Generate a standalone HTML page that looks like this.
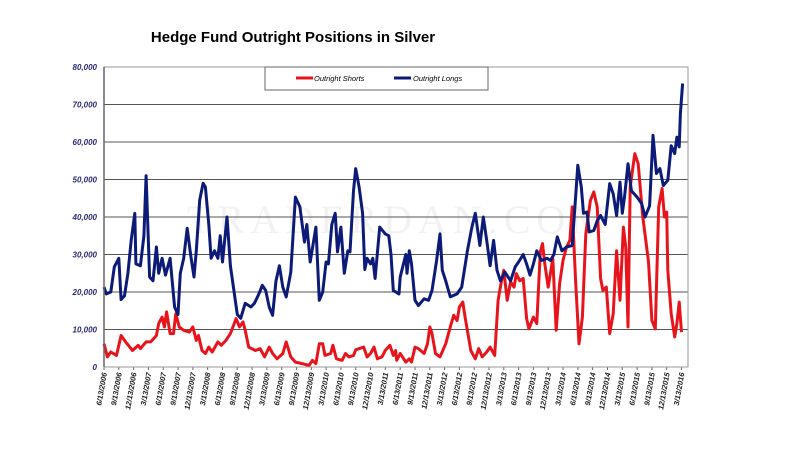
<!DOCTYPE html>
<html><head><meta charset="utf-8"><style>
body{margin:0;background:#fff;width:800px;height:450px;overflow:hidden;font-family:"Liberation Sans",sans-serif}
</style></head><body>
<svg id="chart" width="800" height="450" xmlns="http://www.w3.org/2000/svg">
<text x="293" y="42" text-anchor="middle" font-size="15" font-weight="bold" fill="#000">Hedge Fund Outright Positions in Silver</text>
<text x="400" y="233" text-anchor="middle" font-size="40" font-family="Liberation Serif" fill="#f2f2f2" letter-spacing="6">TRADERDAN.COM</text>
<g id="grid"></g><g id="yticks"></g><g id="xticks"></g><g id="series"></g>
<rect x="104" y="67" width="584" height="300" fill="none" stroke="#999" stroke-width="1"/>
<line x1="104" y1="67" x2="104" y2="367" stroke="#666" stroke-width="1.5"/>
<g>
<rect x="265" y="67" width="223" height="23" fill="#fff" stroke="#666" stroke-width="1"/>
<line x1="296" y1="78" x2="313" y2="78" stroke="#e8141b" stroke-width="3"/>
<text x="314" y="81" font-size="7.5" font-style="italic" fill="#000">Outright Shorts</text>
<line x1="394" y1="78" x2="411" y2="78" stroke="#0c1a78" stroke-width="3"/>
<text x="413" y="81" font-size="7.5" font-style="italic" fill="#000">Outright Longs</text>
</g>
</svg>
<script>
const yTicks=[0,10000,20000,30000,40000,50000,60000,70000,80000];
const xTickLabels=["6/13/2006","9/13/2006","12/13/2006","3/13/2007","6/13/2007","9/13/2007","12/13/2007","3/13/2008","6/13/2008","9/13/2008","12/13/2008","3/13/2009","6/13/2009","9/13/2009","12/13/2009","3/13/2010","6/13/2010","9/13/2010","12/13/2010","3/13/2011","6/13/2011","9/13/2011","12/13/2011","3/13/2012","6/13/2012","9/13/2012","12/13/2012","3/13/2013","6/13/2013","9/13/2013","12/13/2013","3/13/2014","6/13/2014","9/13/2014","12/13/2014","3/13/2015","6/13/2015","9/13/2015","12/13/2015","3/13/2016"];
// weeks since 6/13/2006
const longWeeks=[0,2,6,9,13,15,18,21,24,27,28,32,35,37,40,43,46,48,51,54,58,62,65,67,70,73,76,79,81,84,87,89,92,94,97,100,102,104,108,111,114,117,120,124,129,132,136,139,142,145,148,151,154,157,160,164,168,172,176,178,181,186,189,192,195,197,200,203,205,208,211,214,216,219,221,224,227,229,231,234,236,238,242,247,250,252,254,259,260,265,266,268,270,273,276,281,285,288,292,295,297,300,304,310,314,319,323,326,330,333,336,339,342,345,348,352,357,361,364,368,371,374,377,380,384,389,392,395,398,402,406,411,414,416,419,421,424,426,430,433,436,440,444,447,450,453,455,457,460,463,468,472,475,479,482,485,488,491,495,498,501,503,505,506,508];
const longValues=[21.3,19.5,20,26.7,29,18,19,25,34,41,27.5,27,35,51,24,23,32,25,29,24.5,29,16,14,25,29,37,30,24,31,44.5,49,48,38,29,31,29,35,28,40,27,20.4,14,13,17,16,17,19.5,21.8,20.4,16,13.8,23,27,21.3,18.7,25.3,45.3,42.7,33.3,38,28,37.3,17.8,20,28,27.5,38,41,30.7,37.3,25,31,30.7,47,52.9,48,41,26,29,27.5,29,23.6,37.3,35.5,35,30,20.4,19.5,24,30,25,31,27.5,17.8,16.4,18.2,17.8,20.4,28.4,35.5,25.8,23,18.7,19.5,21.3,31,37.3,41,32.4,40,33.8,27,33.8,25.8,23,25.3,23,26.7,28,30,27.5,24.5,27.5,31,28.4,29,28.4,30,34.7,31,32,32.4,45.3,53.8,48,41,41.3,36,36.4,39,40.4,38,48.9,46.2,40.4,49.3,41,45.3,54.2,47,45.3,43.6,40,43,61.8,51.6,52.9,48.4,49.8,59,56.9,61.3,58.7,67.6,75.6];
const shortWeeks=[0,3,6,11,15,19,25,30,32,37,41,46,48,51,53,55,58,61,63,66,70,75,78,81,83,86,89,92,95,100,103,107,111,116,119,122,124,127,133,137,141,145,148,152,157,160,164,168,174,180,183,186,189,192,194,199,201,204,209,212,215,219,221,228,231,234,237,240,244,247,251,254,256,257,260,265,268,270,273,276,281,284,286,288,291,295,300,304,307,310,312,315,317,322,326,329,332,336,339,343,346,349,351,354,357,360,362,365,368,371,373,377,380,383,385,387,390,394,397,400,403,406,409,411,414,417,420,423,427,430,433,436,438,441,444,447,450,453,456,458,460,462,466,469,473,476,478,481,484,487,490,492,494,495,498,501,503,505,507];
const shortValues=[6.2,2.7,4,3.1,8.4,6.7,4.4,5.8,4.9,6.7,6.7,8.4,11.6,13.3,10.7,14.7,8.9,8.9,14.2,10.7,9.8,9.3,10.7,7.1,8.4,4.4,3.6,5.3,4,6.7,5.8,7.1,8.9,12.9,10.7,12,9.8,5.3,4.4,4.9,2.7,5.3,3.6,2.2,3.6,6.7,2.7,1.3,0.9,0.4,1.8,0.9,6.2,6.2,3.1,3.6,5.8,2.2,1.8,3.6,2.7,3.1,4.6,5.3,2.7,3.6,5.3,2.2,2.7,4.4,5.8,3.1,4.4,1.8,3.6,1.3,2.2,1.3,5.3,4.9,3.6,6.2,10.7,8.9,3.6,2.7,6.2,10.7,13.8,12.4,16,17.3,13.3,4.4,2.2,4.9,2.7,4,5.3,3.1,17.8,23,25.8,17.8,22.7,21.3,24.9,23,23.6,12.9,10.2,13.3,11.6,30.7,32.9,27.5,21.3,28.9,9.8,22.2,28.4,32,33.8,42.7,23,6.2,13.3,35.5,44.4,46.7,42.7,23.6,20.4,21.3,8.9,14.2,31,17.8,37.3,32,10.7,48,56.9,54.2,40,32.9,28,12.4,10.2,42.7,47.6,40,41.3,25.8,14.2,8,11.6,17.3,9.3];

const NS="http://www.w3.org/2000/svg";
const X0=104,X1=681.5,Y0=367,Y1=67,WMAX=507,VMAX=80000;
const xs=w=>X0+(X1-X0)*w/WMAX;
const ys=v=>Y0-(Y0-Y1)*v/VMAX;
function mk(tag,attrs,parent){const e=document.createElementNS(NS,tag);for(const k in attrs)e.setAttribute(k,attrs[k]);parent.appendChild(e);return e;}
const grid=document.getElementById('grid'),yt=document.getElementById('yticks'),xt=document.getElementById('xticks'),ser=document.getElementById('series');
yTicks.forEach(v=>{
  const y=ys(v);
  const l=mk('line',{x1:X0,x2:688,y1:y,y2:y,stroke:v===80000?'#bbb':'#555','stroke-width':1},grid);
  
  
  const t=mk('text',{x:97,y:y+3,'text-anchor':'end','font-size':8,'font-weight':'bold','font-style':'italic',fill:'#2a2a78'},yt);
  t.textContent=v===0?'0':v.toLocaleString('en-US');
  
  
});
xTickLabels.forEach((s,i)=>{
  const x=xs(i*13);
  const tk=mk('line',{x1:x,x2:x,y1:367,y2:370,stroke:'#666'},xt);
  
  
  const t=mk('text',{x:0,y:0,'text-anchor':'end','font-size':7.5,'font-weight':'bold','font-style':'italic',fill:'#222',transform:`translate(${x+3},373) rotate(-80)`},xt);
  t.textContent=s;
  
  
});
function path(ws,vs,color,name){
  const d=ws.map((w,i)=>(i?'L':'M')+xs(w).toFixed(1)+' '+ys(vs[i]*1000).toFixed(1)).join('');
  const p=mk('path',{d:d,fill:'none',stroke:color,'stroke-width':3,'stroke-linejoin':'round'},ser);
  
  
}
path(shortWeeks,shortValues,'#e8141b','outright-shorts-line');
path(longWeeks,longValues,'#0c1a78','outright-longs-line');
</script>
</body></html>
